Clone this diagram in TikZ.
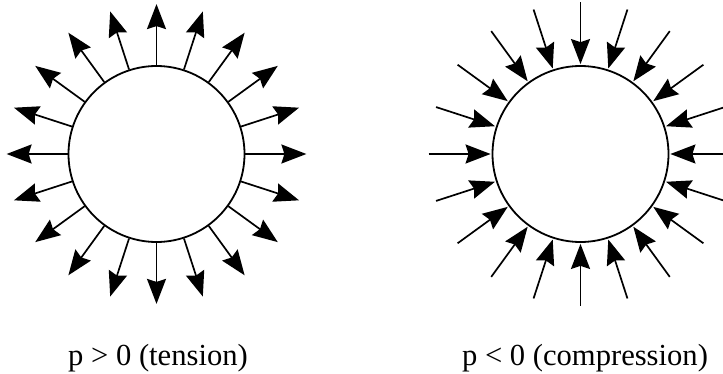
\documentclass[tikz,border=0pt]{standalone}
\usepackage{fontspec}
\setmainfont{Liberation Serif}
\usetikzlibrary{arrows.meta,calc}
\begin{document}
\begin{tikzpicture}[x=1pt,y=1pt,
  ball/.style={circle,draw,line width=1.8pt,minimum size=176pt,inner sep=0pt},
  arr/.style={line width=1.7pt,-{Stealth[length=25pt,width=19pt,inset=3pt]}},
  lbl/.style={anchor=base,inner sep=0pt,font=\fontsize{30.6}{36}\selectfont}]
\clip (0,0) rectangle (723,373);
\node[ball] (L) at (156.5,219) {};
\node[ball] (R) at (580.5,219) {};
\foreach \a in {0,18,...,342}{
  \draw[arr] (L.\a) -- ++(\a:61pt);
  \draw[arr] (R.\a) ++(\a:63pt) -- ($(R.\a)+(\a:1pt)$);
}
\node[lbl] (tl) at (158,8) {p > 0 (tension)};
\node[lbl] (tr) at (585,8) {p < 0 (compression)};
\end{tikzpicture}
\end{document}
